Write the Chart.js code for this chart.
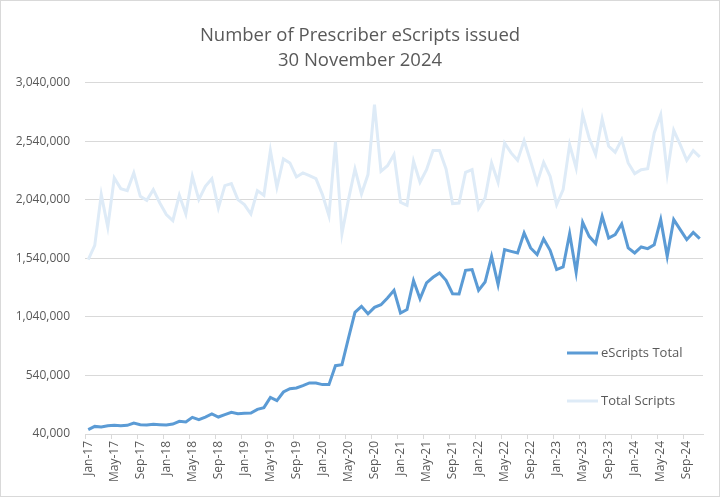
<!DOCTYPE html>
<html>
<head>
<meta charset="utf-8">
<script src="https://cdn.jsdelivr.net/npm/chart.js@4.4.0/dist/chart.umd.min.js"></script>
<style>
    body { margin: 0; background: #fff; }
    #wrap { position: relative; width: 720px; height: 497px; box-sizing: border-box; border: 1px solid #d9d9d9; }
</style>
</head>
<body>
<div id="wrap"><canvas id="scriptsChart"></canvas></div>
<script>
// Monthly categories, Jan-17 .. Nov-24
const months = [
    'Jan-17','Feb-17','Mar-17','Apr-17','May-17','Jun-17','Jul-17','Aug-17','Sep-17','Oct-17','Nov-17','Dec-17',
    'Jan-18','Feb-18','Mar-18','Apr-18','May-18','Jun-18','Jul-18','Aug-18','Sep-18','Oct-18','Nov-18','Dec-18',
    'Jan-19','Feb-19','Mar-19','Apr-19','May-19','Jun-19','Jul-19','Aug-19','Sep-19','Oct-19','Nov-19','Dec-19',
    'Jan-20','Feb-20','Mar-20','Apr-20','May-20','Jun-20','Jul-20','Aug-20','Sep-20','Oct-20','Nov-20','Dec-20',
    'Jan-21','Feb-21','Mar-21','Apr-21','May-21','Jun-21','Jul-21','Aug-21','Sep-21','Oct-21','Nov-21','Dec-21',
    'Jan-22','Feb-22','Mar-22','Apr-22','May-22','Jun-22','Jul-22','Aug-22','Sep-22','Oct-22','Nov-22','Dec-22',
    'Jan-23','Feb-23','Mar-23','Apr-23','May-23','Jun-23','Jul-23','Aug-23','Sep-23','Oct-23','Nov-23','Dec-23',
    'Jan-24','Feb-24','Mar-24','Apr-24','May-24','Jun-24','Jul-24','Aug-24','Sep-24','Oct-24','Nov-24'
];

const eScriptsTotal = [
    77000, 105000, 100000, 111000, 114000, 111000, 114000, 134000, 120000, 117000, 123000, 120000,
    117000, 125000, 148000, 143000, 182000, 163000, 185000, 211000, 185000, 205000, 225000, 214000,
    217000, 219000, 250000, 265000, 353000, 325000, 399000, 427000, 433000, 453000, 476000, 476000,
    462000, 462000, 624000, 633000, 860000, 1080000, 1131000, 1068000, 1122000, 1145000, 1202000, 1268000,
    1074000, 1103000, 1351000, 1196000, 1331000, 1379000, 1416000, 1353000, 1239000, 1237000, 1439000, 1445000,
    1268000, 1339000, 1558000, 1316000, 1616000, 1601000, 1587000, 1758000, 1630000, 1573000, 1707000, 1610000,
    1445000, 1467000, 1752000, 1422000, 1849000, 1729000, 1667000, 1900000, 1715000, 1744000, 1835000, 1630000,
    1587000, 1638000, 1624000, 1658000, 1872000, 1558000, 1872000, 1786000, 1701000, 1763000, 1709000
];

const totalScripts = [
    1530000, 1652000, 2086000, 1809000, 2228000, 2137000, 2120000, 2271000, 2071000, 2037000, 2128000, 2014000,
    1915000, 1863000, 2080000, 1920000, 2242000, 2043000, 2157000, 2222000, 1972000, 2163000, 2180000, 2043000,
    2000000, 1920000, 2120000, 2080000, 2462000, 2148000, 2391000, 2356000, 2237000, 2271000, 2248000, 2222000,
    2086000, 1906000, 2536000, 1752000, 2043000, 2305000, 2091000, 2257000, 2855000, 2285000, 2333000, 2428000,
    2020000, 1994000, 2371000, 2191000, 2299000, 2462000, 2462000, 2305000, 2009000, 2014000, 2277000, 2299000,
    1966000, 2057000, 2356000, 2191000, 2527000, 2442000, 2379000, 2547000, 2371000, 2185000, 2362000, 2242000,
    2000000, 2128000, 2513000, 2313000, 2769000, 2570000, 2428000, 2732000, 2499000, 2448000, 2556000, 2356000,
    2265000, 2299000, 2308000, 2613000, 2769000, 2265000, 2635000, 2513000, 2379000, 2462000, 2408000
];

const yMin = 40000, yMax = 3040000, yStep = 500000;
const textColor = '#595959';
const gridColor = '#d9d9d9';
const fontFamily = '"Open Sans", sans-serif';

// Legend drawn inside the plot, bottom right (like the Excel original)
const insideLegend = {
    id: 'insideLegend',
    afterDraw(chart) {
        const ctx = chart.ctx;
        const x0 = 566, rows = [352, 400];
        ctx.save();
        ctx.font = '13px ' + fontFamily;
        ctx.textBaseline = 'middle';
        chart.data.datasets.forEach((ds, i) => {
            const y = rows[i];
            ctx.strokeStyle = ds.borderColor;
            ctx.lineWidth = ds.borderWidth;
            ctx.beginPath();
            ctx.moveTo(x0, y);
            ctx.lineTo(x0 + 31, y);
            ctx.stroke();
            ctx.fillStyle = textColor;
            ctx.fillText(ds.label, x0 + 34, y);
        });
        ctx.restore();
    }
};

const ctx = document.getElementById('scriptsChart').getContext('2d');
new Chart(ctx, {
    type: 'line',
    data: {
        labels: months,
        datasets: [
            {
                label: 'eScripts Total',
                data: eScriptsTotal,
                borderColor: '#5b9bd5',
                borderWidth: 3,
                pointRadius: 0,
                tension: 0
            },
            {
                label: 'Total Scripts',
                data: totalScripts,
                borderColor: '#deebf7',
                borderWidth: 3,
                pointRadius: 0,
                tension: 0
            }
        ]
    },
    options: {
        responsive: true,
        maintainAspectRatio: false,
        animation: false,
        layout: { padding: 0 },
        plugins: {
            legend: { display: false },
            tooltip: { enabled: false },
            title: {
                display: true,
                text: ['Number of Prescriber eScripts issued', '30 November 2024'],
                color: textColor,
                font: { family: fontFamily, size: 18.5, weight: 'normal', lineHeight: 1.35 },
                padding: { top: 22.3, bottom: 9.7 }
            }
        },
        scales: {
            x: {
                offset: true,
                grid: {
                    offset: true,
                    drawOnChartArea: false,
                    tickLength: 5,
                    color: c => (c.index % 4 === 0 ? gridColor : 'rgba(0,0,0,0)')
                },
                border: { color: gridColor },
                ticks: {
                    autoSkip: false,
                    maxRotation: 90,
                    minRotation: 90,
                    padding: 2,
                    color: textColor,
                    font: { family: fontFamily, size: 12 },
                    callback: function (val, idx) {
                        return idx % 4 === 0 ? this.getLabelForValue(val) : '';
                    }
                },
                afterFit: s => { s.height = 62; }
            },
            y: {
                min: yMin,
                max: yMax,
                grid: { color: gridColor, drawTicks: false },
                border: { display: false },
                ticks: {
                    stepSize: yStep,
                    padding: 15,
                    color: textColor,
                    font: { family: fontFamily, size: 12 },
                    callback: v => v.toLocaleString('en-US')
                },
                afterFit: s => { s.width = 84; }
            },
            // empty right-hand strip so the plot stops short of the edge
            yRight: {
                position: 'right',
                display: true,
                grid: { display: false },
                border: { display: false },
                ticks: { display: false },
                afterFit: s => { s.width = 16; }
            }
        }
    },
    plugins: [insideLegend]
});
</script>
</body>
</html>
